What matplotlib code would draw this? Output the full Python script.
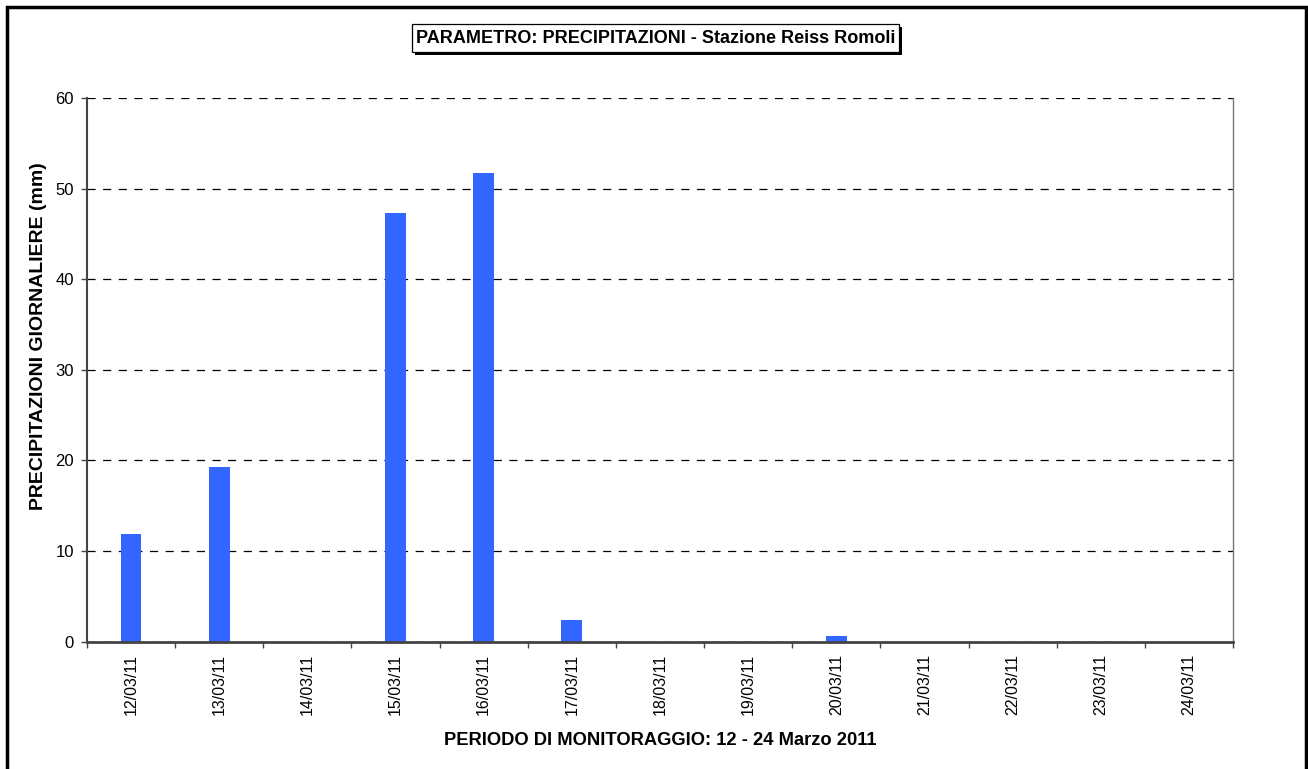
import matplotlib.pyplot as plt
import matplotlib.patches as patches
import numpy as np

dates = ['12/03/11', '13/03/11', '14/03/11', '15/03/11', '16/03/11', '17/03/11', '18/03/11',
         '19/03/11', '20/03/11', '21/03/11', '22/03/11', '23/03/11', '24/03/11']
rain = [11.9, 19.3, 0, 47.3, 51.7, 2.4, 0, 0, 0.6, 0, 0, 0, 0]

plt.rcParams['font.family'] = ['Liberation Sans', 'DejaVu Sans']

W, H = 1308, 769


def px_rect(x0, y0, x1, y1, **kw):
    # rectangle given in pixel coords (origin top-left)
    return patches.Rectangle((x0 / W, 1 - y1 / H), (x1 - x0) / W, (y1 - y0) / H,
                             transform=fig.transFigure, **kw)


fig = plt.figure(figsize=(W / 100, H / 100), dpi=100)
ax = fig.add_axes([87 / W, 1 - 641.7 / H, (1233 - 87) / W, (641.7 - 98) / H])

x = np.arange(len(dates))
ax.bar(x, rain, width=0.235, color='#3366FF', zorder=3)

ax.set_xlim(-0.5, len(dates) - 0.5)
ax.set_ylim(0, 60)
ax.set_yticks(range(0, 61, 10))
ax.set_xticks(x)
ax.set_xticklabels(dates, rotation=90, fontsize=11.5)
ax.tick_params(axis='x', length=0, pad=9)
ax.set_xticks(np.arange(-0.5, len(dates)), minor=True)
ax.tick_params(axis='x', which='minor', length=4, width=1, color='#444444')
ax.tick_params(axis='y', length=4.5, width=1, color='#444444', labelsize=12, pad=5)

ax.yaxis.grid(True, color='black', linestyle=(0, (6.5, 6)), linewidth=0.9, zorder=1)
ax.spines['left'].set_color('#444444')
ax.spines['left'].set_linewidth(1.5)
ax.spines['bottom'].set_color('#444444')
ax.spines['bottom'].set_linewidth(2)
ax.spines['bottom'].set_zorder(4)
ax.spines['right'].set_color('#777777')
ax.spines['right'].set_linewidth(1)
ax.spines['top'].set_visible(False)

ax.set_ylabel('PRECIPITAZIONI GIORNALIERE (mm)', fontsize=14, fontweight='bold')
ax.yaxis.set_label_coords(-0.035, 0.562)
ax.set_xlabel('PERIODO DI MONITORAGGIO: 12 - 24 Marzo 2011', fontsize=13.2, fontweight='bold')
ax.xaxis.set_label_coords(0.5, -0.166)

# title box with shadow
fig.patches.append(px_rect(415, 27, 902, 55, facecolor='black', edgecolor='none', zorder=1))
fig.patches.append(px_rect(412, 24, 899, 52, facecolor='white', edgecolor='black',
                           linewidth=0.9, zorder=2))
fig.text(655.5 / W, 1 - 38.5 / H, 'PARAMETRO: PRECIPITAZIONI - Stazione Reiss Romoli',
         ha='center', va='center', fontsize=13, fontweight='bold', zorder=3)

# outer frame
fig.patches.append(patches.Rectangle((7 / W, -0.05), (1306 - 7) / W, 1.05 - 7 / H,
                                     transform=fig.transFigure, facecolor='none',
                                     edgecolor='black', linewidth=2.5))

fig.savefig('out.png', dpi=100)
